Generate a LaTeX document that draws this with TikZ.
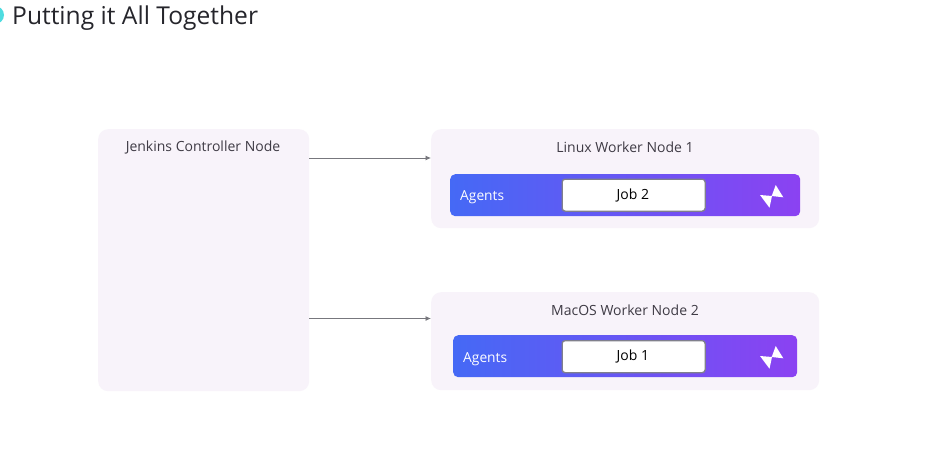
\documentclass[tikz,border=0pt]{standalone}
\usepackage{fontspec}
\setmainfont{Open Sans}
\definecolor{panel}{HTML}{F8F3FA}
\definecolor{barL}{HTML}{4569F5}
\definecolor{barR}{HTML}{8B42F2}
\definecolor{txt}{HTML}{3F3B45}
\definecolor{ttl}{HTML}{25252B}
\definecolor{teal}{HTML}{4FDCE0}
\definecolor{jobedge}{HTML}{80808C}
\definecolor{conn}{HTML}{77777D}
\usetikzlibrary{arrows.meta}
\tikzset{
  x=1pt,y=-1pt,
  panelbox/.style={fill=panel,draw=none,rounded corners=10pt,anchor=north west,inner sep=0pt},
  barbox/.style={left color=barL,right color=barR,draw=none,rounded corners=5pt,anchor=north west,inner sep=0pt},
  jobbox/.style={fill=white,draw=jobedge,line width=1.3pt,rounded corners=3pt,anchor=north west,inner sep=0pt,minimum width=143pt,minimum height=32pt,font=\fontsize{14pt}{16pt}\selectfont,text=black},
  paneltext/.style={font=\fontsize{14pt}{16pt}\selectfont,text=txt,inner sep=0pt},
  agenttext/.style={font=\fontsize{13.8pt}{16pt}\selectfont,text=white,inner sep=0pt,anchor=west},
  arrowline/.style={draw=conn,line width=.8pt,-{Latex[length=5.5pt,width=5pt]}},
}
\begin{document}
\begin{tikzpicture}
\useasboundingbox[fill=white] (0,0) rectangle (927,471);
\node[circle,fill=teal,minimum size=18pt,inner sep=0pt] (dot) at (-5,15) {};
\node[anchor=west,inner sep=0pt,font=\fontsize{24.6pt}{28pt}\selectfont,text=ttl] (title) at (12,18) {Putting it All Together};

\node[panelbox,minimum width=211pt,minimum height=262pt] (ctrl) at (98,129) {};
\node[paneltext] (ctrlt) at (203,147) {Jenkins Controller Node};

\node[panelbox,minimum width=388pt,minimum height=99pt] (w1) at (431,129) {};
\node[paneltext] (w1t) at (625,147.5) {Linux Worker Node 1};
\node[barbox,minimum width=350pt,minimum height=42pt] (b1) at (450,174) {};
\node[agenttext] (a1) at (460,197.5) {Agents};
\node[jobbox] (j1) at (561.5,178.5) {\hspace*{-1.5pt}Job 2};

\node[panelbox,minimum width=388pt,minimum height=98pt] (w2) at (431,292) {};
\node[paneltext] (w2t) at (625,310) {MacOS Worker Node 2};
\node[barbox,minimum width=344pt,minimum height=42pt] (b2) at (453,335) {};
\node[agenttext] (a2) at (463,359) {Agents};
\node[jobbox] (j2) at (561.5,340) {\hspace*{-1.5pt}Job 1};

\fill[white] (760,195) -- (772,196) -- (769.5,207.7) -- cycle;
\fill[white] (775.7,185) -- (783.3,197.3) -- (771.7,196) -- cycle;
\fill[white] (760,356) -- (772,357) -- (769.5,368.7) -- cycle;
\fill[white] (775.7,346) -- (783.3,358.3) -- (771.7,357) -- cycle;

\coordinate (s1) at (ctrl.north east |- 0,158);
\coordinate (e1) at (w1.north west |- 0,158);
\coordinate (s2) at (ctrl.north east |- 0,318.5);
\coordinate (e2) at (w2.north west |- 0,318.5);
\draw[arrowline] (s1) -- (e1);
\draw[arrowline] (s2) -- (e2);
\end{tikzpicture}
\end{document}
